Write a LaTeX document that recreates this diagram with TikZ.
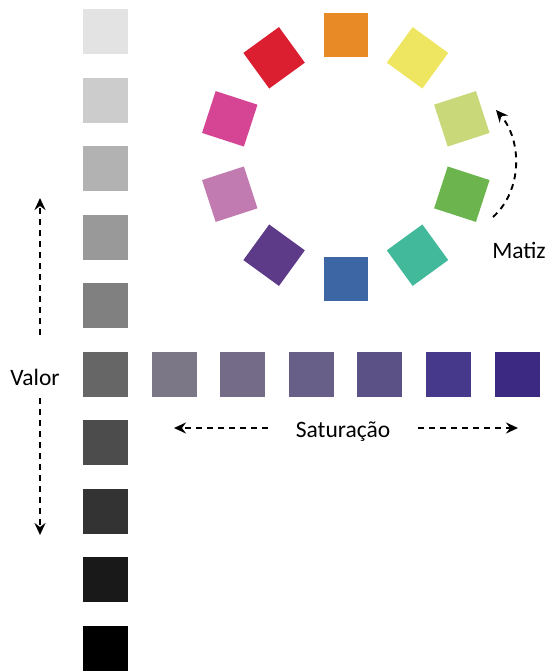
\documentclass[tikz,border=0pt]{standalone}
\usepackage{fontspec}
\setmainfont{Carlito}
\usetikzlibrary{arrows.meta,calc}
\definecolor{s1}{HTML}{7B7787}
\definecolor{s2}{HTML}{736B88}
\definecolor{s3}{HTML}{675F87}
\definecolor{s4}{HTML}{5C5186}
\definecolor{s5}{HTML}{46388A}
\definecolor{s6}{HTML}{3C2A82}
\definecolor{hOrange}{HTML}{E88A25}
\definecolor{hYellow}{HTML}{EEE660}
\definecolor{hLime}{HTML}{C9D878}
\definecolor{hGreen}{HTML}{6CB44D}
\definecolor{hTeal}{HTML}{43B99C}
\definecolor{hBlue}{HTML}{3D66A5}
\definecolor{hPurple}{HTML}{5E3B89}
\definecolor{hOrchid}{HTML}{C17BB1}
\definecolor{hMagenta}{HTML}{D54594}
\definecolor{hRed}{HTML}{DC1E31}
\begin{document}
\begin{tikzpicture}[x=1pt,y=-1pt,
  sq/.style={minimum size=45pt, inner sep=0pt, outer sep=0pt, draw=none},
  wsq/.style={minimum size=44pt, inner sep=0pt, outer sep=0pt, draw=none},
  lbl/.style={font=\fontsize{23.5}{28}\selectfont, inner sep=0pt, anchor=base},
  dasharrow/.style={line width=1.9pt, dash pattern=on 6pt off 5pt,
    -{Stealth[length=12pt,width=11pt,inset=4pt]}}]
\useasboundingbox (0,0) rectangle (549,672);
% value column
\foreach \g [count=\i from 0] in {89,80,70,60,50,40,30,20,10,0}
  \node[sq, fill=white!\g!black] (g\i) at (105.5,{31.5+68.56*\i}) {};
% saturation row
\foreach \c [count=\j from 0] in {s1,s2,s3,s4,s5,s6}
  \node[sq, fill=\c] (s\j) at ({174+68.6*\j},374.5) {};
% hue wheel
\coordinate (wc) at (345.8,156.5);
\foreach \c/\a [count=\k from 0] in {hOrange/90,hYellow/54,hLime/18,hGreen/-18,hTeal/-54,hBlue/-90,hPurple/-126,hOrchid/-162,hMagenta/162,hRed/126}
  \node[wsq, fill=\c, rotate=\a] (h\k) at ($(wc)+(-\a:122)$) {};
% labels
\node[lbl] (valor) at (35,385) {Valor};
\node[lbl] (sat) at (343,437) {Saturação};
\node[lbl] (matiz) at (519,258) {Matiz};
% arrows
\coordinate (vU0) at (40,335);
\coordinate (vU1) at (40,198);
\coordinate (vD0) at (40,398);
\coordinate (vD1) at (40,535);
\coordinate (sL0) at (268,428);
\coordinate (sL1) at (174,428);
\coordinate (sR0) at (418,428);
\coordinate (sR1) at (518,428);
\coordinate (m0) at (493,217);
\coordinate (m1) at (496,110);
\draw[dasharrow] (vU0) -- (vU1);
\draw[dasharrow] (vD0) -- (vD1);
\draw[dasharrow] (sL0) -- (sL1);
\draw[dasharrow] (sR0) -- (sR1);
\draw[dasharrow] (m0) .. controls (523,190) and (522,140) .. (m1);
\end{tikzpicture}
\end{document}
